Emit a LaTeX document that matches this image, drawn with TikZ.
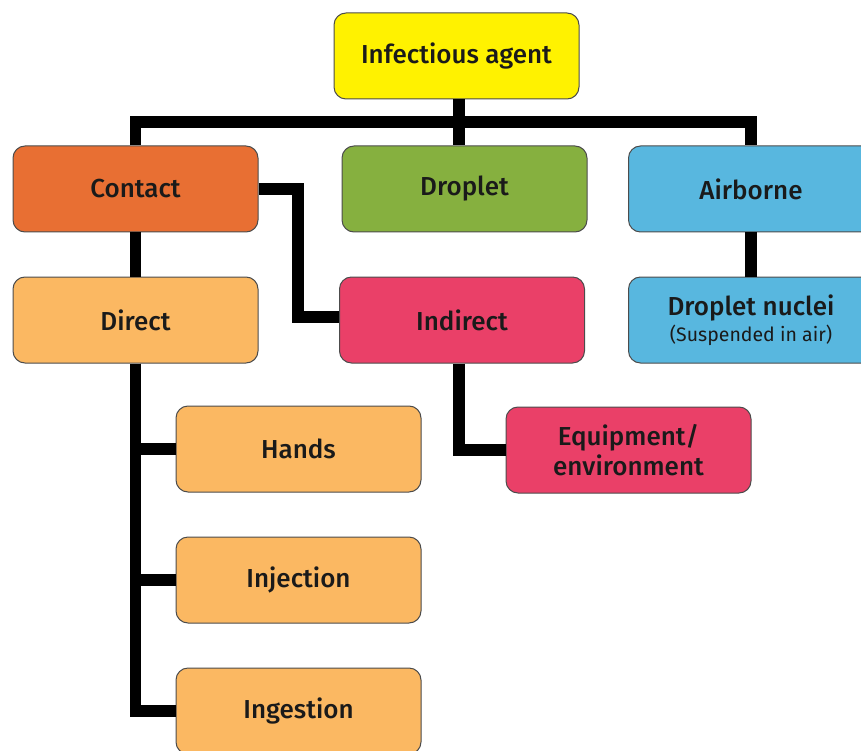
\documentclass[tikz,border=0pt]{standalone}
\usepackage{fontspec}
\setmainfont{Fira Sans}[BoldFont={Fira Sans Medium}]
\usetikzlibrary{calc}
\definecolor{cyellow}{HTML}{FFF200}
\definecolor{corange}{HTML}{E86F33}
\definecolor{cgreen}{HTML}{86B03F}
\definecolor{cblue}{HTML}{58B7DF}
\definecolor{clight}{HTML}{FBB862}
\definecolor{cpink}{HTML}{EA4068}
\definecolor{ctext}{HTML}{1A1A1A}
\tikzset{
  box/.style={draw=black!70, line width=1pt, rounded corners=12pt,
    minimum width=245pt, minimum height=86pt, inner sep=0pt,
    align=center, text=ctext, font=\fontsize{26}{29}\selectfont\bfseries},
  conn/.style={draw=black, line width=11.5pt, line join=miter, line cap=butt}
}
\begin{document}
\begin{tikzpicture}[x=1pt,y=-1pt]
\useasboundingbox (0,0) rectangle (861,751);
\coordinate (bar) at (459,122);
\coordinate (cj) at (298,317);
\node[box, fill=cyellow] (agent) at (456.5,56) {Infectious agent};
\node[box, fill=corange] (contact) at (135.5,189) {Contact};
\node[box, fill=cgreen] (droplet) at (464.5,189) {Droplet};
\node[box, fill=cblue] (airborne) at (751,189) {Airborne};
\node[box, fill=clight] (direct) at (135.5,320) {Direct};
\node[box, fill=cpink] (indirect) at (462,320) {Indirect};
\node[box, fill=cblue] (nuclei) at (751,320) {Droplet nuclei\\[-3pt]{\fontsize{19.5}{21}\selectfont\mdseries (Suspended in air)}};
\node[box, fill=clight] (hands) at (298.5,449) {Hands};
\node[box, fill=clight] (injection) at (298.5,580) {Injection};
\node[box, fill=clight] (ingestion) at (298.5,711) {Ingestion};
\node[box, fill=cpink, font=\fontsize{26}{30}\selectfont\bfseries] (equip) at (628.5,450) {Equipment/\\environment};
\draw[conn] (bar |- agent.south) -- (bar);
\draw[conn] (contact.north) |- (bar) -| (airborne.north);
\draw[conn] (bar) -- (bar |- droplet.north);
\draw[conn] (contact.east) -| (cj) -- (indirect.west |- cj);
\draw[conn] (contact.south) -- (direct.north);
\draw[conn] (airborne.south) -- (nuclei.north);
\draw[conn] (direct.south) |- (hands.west);
\draw[conn] (direct.south) |- (injection.west);
\draw[conn] (direct.south) |- (ingestion.west);
\draw[conn] ([xshift=-3pt]indirect.south) |- (equip.west);
\end{tikzpicture}
\end{document}
